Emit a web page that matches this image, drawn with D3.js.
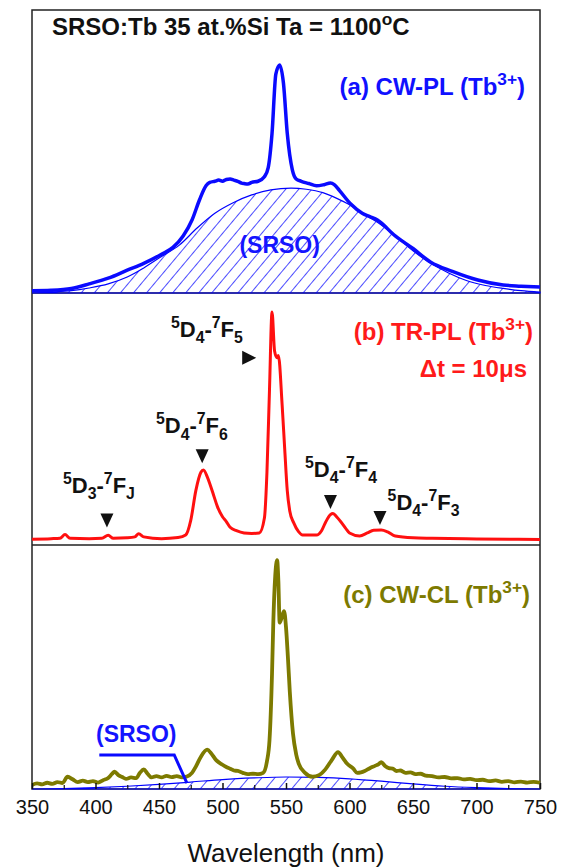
<!DOCTYPE html>
<html>
<head>
<meta charset="utf-8">
<script src="https://cdn.jsdelivr.net/npm/d3@7"></script>
<style>
  body { margin: 0; background: #fff; }
  svg { font-family: Arial, "Liberation Sans", sans-serif; }
</style>
</head>
<body>
<div id="chart"></div>
<script>
// spectres : [longueur d'onde (nm), intensité normalisée]
var cwPL = [[350,0.01],[365,0.012],[381,0.02],[395,0.04],[410,0.065],[425,0.1],[438,0.13],[452,0.17],[461,0.2],[469,0.25],[476,0.32],[482,0.41],[487,0.47],[490,0.485],[494,0.49],[497,0.495],[500,0.49],[503,0.498],[506,0.5],[509,0.495],[512,0.49],[515,0.482],[517,0.48],[520,0.478],[523,0.485],[528,0.49],[533,0.51],[536,0.55],[539,0.7],[542,0.96],[545,1.0],[548,0.92],[551,0.7],[555,0.54],[558,0.5],[562,0.49],[568,0.48],[574,0.47],[580,0.475],[585,0.482],[588,0.475],[592,0.45],[601,0.39],[610,0.35],[616,0.335],[622,0.32],[636,0.25],[650,0.195],[664,0.135],[681,0.095],[701,0.057],[721,0.035],[735,0.03],[750,0.026]];
var srsoA = [[350,0],[365,0.004],[381,0.01],[395,0.022],[410,0.04],[425,0.07],[438,0.11],[452,0.16],[466,0.21],[480,0.285],[494,0.35],[508,0.395],[523,0.43],[538,0.452],[554,0.46],[566,0.455],[579,0.44],[590,0.415],[599,0.39],[610,0.35],[622,0.31],[636,0.25],[650,0.185],[664,0.13],[678,0.088],[692,0.055],[707,0.033],[721,0.02],[735,0.01],[750,0.004]];

var trPL = [[350,0.008],[365,0.01],[372,0.012],[376,0.028],[380,0.012],[395,0.01],[405,0.012],[410,0.025],[414,0.012],[425,0.014],[431,0.018],[434,0.032],[438,0.018],[452,0.01],[465,0.015],[471,0.026],[475,0.09],[479,0.22],[483,0.3],[485,0.31],[488,0.28],[490,0.25],[493,0.2],[496,0.15],[500,0.106],[503,0.085],[506,0.06],[511,0.045],[517,0.035],[523,0.033],[529,0.035],[533,0.1],[535,0.3],[537,0.66],[539,1.0],[541,0.83],[543,0.8],[544,0.81],[547,0.59],[549,0.4],[551,0.22],[553,0.13],[556,0.08],[560,0.04],[563,0.026],[574,0.026],[578,0.045],[581,0.08],[585,0.115],[587,0.12],[590,0.105],[593,0.085],[597,0.055],[600,0.035],[608,0.022],[614,0.035],[619,0.047],[625,0.048],[630,0.04],[636,0.022],[650,0.014],[665,0.012],[700,0.009],[750,0.007]];

var cwCL = [[350,0.017],[354,0.024],[358,0.02],[362,0.027],[366,0.022],[370,0.03],[374,0.026],[378,0.053],[382,0.042],[386,0.03],[390,0.036],[394,0.03],[398,0.034],[402,0.028],[406,0.038],[410,0.048],[413,0.065],[415,0.075],[418,0.06],[421,0.052],[424,0.044],[428,0.05],[432,0.047],[435,0.07],[438,0.085],[441,0.066],[444,0.05],[448,0.056],[452,0.05],[456,0.057],[460,0.051],[464,0.056],[468,0.05],[472,0.054],[476,0.07],[479,0.097],[483,0.14],[488,0.17],[491,0.155],[495,0.125],[500,0.105],[503,0.095],[506,0.088],[509,0.08],[512,0.078],[516,0.07],[520,0.064],[524,0.066],[528,0.064],[532,0.07],[535,0.12],[537,0.21],[539,0.5],[540,0.72],[541.5,0.92],[543,0.99],[544,0.9],[545,0.72],[546.5,0.74],[548.5,0.77],[550,0.7],[551.5,0.57],[553,0.42],[555.5,0.24],[558,0.15],[560,0.11],[565,0.07],[571,0.053],[576,0.06],[581,0.085],[586,0.125],[591,0.16],[594,0.14],[598,0.11],[603,0.088],[606,0.07],[609,0.072],[612,0.078],[616,0.09],[620,0.1],[623,0.108],[625,0.116],[628,0.1],[631,0.09],[634,0.088],[637,0.078],[640,0.08],[644,0.07],[648,0.072],[652,0.064],[656,0.066],[660,0.058],[665,0.056],[670,0.05],[675,0.052],[680,0.046],[685,0.047],[690,0.042],[695,0.044],[700,0.038],[705,0.04],[710,0.034],[715,0.037],[720,0.031],[725,0.034],[730,0.029],[735,0.032],[740,0.028],[745,0.031],[750,0.027]];
var srsoC = [[350,0],[375,0.002],[400,0.006],[425,0.012],[450,0.02],[475,0.03],[500,0.041],[525,0.048],[550,0.052],[575,0.05],[600,0.044],[625,0.034],[650,0.022],[675,0.012],[700,0.006],[725,0.002],[750,0]];

// graduations de l'axe des x
var majorTicks = [350, 400, 450, 500, 550, 600, 650, 700, 750];
var minorTicks = [375, 425, 475, 525, 575, 625, 675, 725];

// transitions du Tb3+ repérées sur le spectre (b)
var transitions = [
  {lvl: "3", f: "J", wl: 409, v: 0.09, lwl: 374.4, lv: 0.21, dir: "down"},
  {lvl: "4", f: "6", wl: 484, v: 0.37, lwl: 447.6, lv: 0.47, dir: "down"},
  {lvl: "4", f: "5", wl: 521, v: 0.80, lwl: 459.4, lv: 0.89, dir: "right"},
  {lvl: "4", f: "4", wl: 585, v: 0.17, lwl: 565, lv: 0.28, dir: "down"},
  {lvl: "4", f: "3", wl: 624, v: 0.10, lwl: 630, lv: 0.135, dir: "down"}
];

var width = 564
var height = 867
var left = 32, right = 540

var svg = d3.select("#chart")
  .append("svg")
    .attr("width", width)
    .attr("height", height)

var x = d3.scaleLinear().domain([350, 750]).range([left, right])
var yA = d3.scaleLinear().domain([0, 1.241]).range([293, 10])
var yB = d3.scaleLinear().domain([-0.0175, 1.083]).range([545, 293])
var yC = d3.scaleLinear().domain([0, 1.056]).range([789, 545])

// motif hachuré pour la contribution SRSO
var defs = svg.append("defs")
defs.append("pattern")
    .attr("id", "hatch")
    .attr("width", 10)
    .attr("height", 10)
    .attr("patternUnits", "userSpaceOnUse")
    .attr("patternTransform", "rotate(40)")
  .append("line")
    .attr("x1", 0).attr("y1", 0)
    .attr("x2", 0).attr("y2", 10)
    .attr("stroke", "#0000ff")
    .attr("stroke-width", 1.4)

function drawSrso(data, y) {
  var area = d3.area()
    .x(function(d){ return x(d[0]) })
    .y0(y(0))
    .y1(function(d){ return y(d[1]) })
    .curve(d3.curveMonotoneX)
  svg.append("path")
    .datum(data)
    .attr("d", area)
    .attr("fill", "url(#hatch)")
    .attr("stroke", "#0000ff")
    .attr("stroke-width", 1.2)
}

function drawLine(data, y, color, w) {
  var line = d3.line()
    .x(function(d){ return x(d[0]) })
    .y(function(d){ return y(d[1]) })
    .curve(d3.curveMonotoneX)
  svg.append("path")
    .datum(data)
    .attr("d", line)
    .attr("fill", "none")
    .attr("stroke", color)
    .attr("stroke-width", w)
    .attr("stroke-linejoin", "round")
}

// texte avec exposants / indices
function richText(px, py, parts, size, color, anchor) {
  var t = svg.append("text")
    .attr("x", px)
    .attr("y", py)
    .attr("font-size", size)
    .attr("font-weight", "bold")
    .attr("fill", color)
    .attr("text-anchor", anchor || "start")
  var shift = 0
  parts.forEach(function(p) {
    var target = p.s === "sup" ? -size * 0.42 : (p.s === "sub" ? size * 0.28 : 0)
    t.append("tspan")
      .attr("dy", target - shift)
      .attr("font-size", p.s ? size * 0.72 : size)
      .text(p.t)
    shift = target
  })
}

// cadres des trois panneaux
svg.append("rect")
  .attr("x", left).attr("y", 10)
  .attr("width", right - left).attr("height", 789 - 10)
  .attr("fill", "none").attr("stroke", "#222").attr("stroke-width", 1.5)
svg.append("line").attr("x1", left).attr("x2", right).attr("y1", 293).attr("y2", 293)
  .attr("stroke", "#222").attr("stroke-width", 1.5)
svg.append("line").attr("x1", left).attr("x2", right).attr("y1", 545).attr("y2", 545)
  .attr("stroke", "#222").attr("stroke-width", 1.5)

// (a) CW-PL
drawSrso(srsoA, yA)
drawLine(cwPL, yA, "#0a0aff", 3.5)

// (b) TR-PL
drawLine(trPL, yB, "#ff1010", 3)

// (c) CW-CL
drawSrso(srsoC, yC)
drawLine(cwCL, yC, "#7d7a00", 3.8)

// axe des x (graduations vers l'intérieur)
var axis = svg.append("g")
  .attr("transform", "translate(0,789)")
  .call(d3.axisBottom(x).tickValues(majorTicks).tickSize(-6).tickPadding(11).tickFormat(d3.format("d")))
axis.select(".domain").remove()
axis.selectAll("text").attr("font-size", 20).attr("font-family", "Arial, 'Liberation Sans', sans-serif").attr("fill", "#111")
axis.selectAll("line").attr("stroke", "#111").attr("stroke-width", 1.5)

var minor = svg.append("g")
  .attr("transform", "translate(0,789)")
  .call(d3.axisBottom(x).tickValues(minorTicks).tickSize(-4).tickFormat(""))
minor.select(".domain").remove()
minor.selectAll("line").attr("stroke", "#111").attr("stroke-width", 1.2)

svg.append("text")
  .attr("x", (left + right) / 2)
  .attr("y", 862)
  .attr("text-anchor", "middle")
  .attr("font-size", 26)
  .attr("fill", "#111")
  .text("Wavelength (nm)")

// titre
richText(52, 35, [{t: "SRSO:Tb 35 at.%Si Ta = 1100"}, {t: "o", s: "sup"}, {t: "C"}], 24, "#111")

// étiquettes des panneaux
var tb = function(pre) { return [{t: pre + " (Tb"}, {t: "3+", s: "sup"}, {t: ")"}] }
richText(525, 95, tb("(a) CW-PL"), 24, "#1010ff", "end")
richText(533, 340, tb("(b) TR-PL"), 24, "#ff1a1a", "end")
richText(527, 377, [{t: "\u0394t = 10\u03bcs"}], 24, "#ff1a1a", "end")
richText(530, 603, tb("(c) CW-CL"), 24, "#7d7a00", "end")

svg.append("text")
  .attr("x", x(545)).attr("y", yA(0.175))
  .attr("text-anchor", "middle")
  .attr("font-size", 23).attr("font-weight", "bold").attr("fill", "#1414ff")
  .text("(SRSO)")

// légende SRSO du panneau (c) avec son trait de rappel
svg.append("text")
  .attr("x", 96).attr("y", 742)
  .attr("font-size", 23).attr("font-weight", "bold").attr("fill", "#1414ff")
  .text("(SRSO)")
svg.append("path")
  .attr("d", d3.line()([[x(403), 755], [x(462), 755], [x(472), yC(0.025)]]))
  .attr("fill", "none").attr("stroke", "#0a0aff").attr("stroke-width", 3)

// flèches et noms des transitions
transitions.forEach(function(d) {
  var cx = x(d.wl), cy = yB(d.v)
  var tri = d.dir === "down"
    ? [[cx - 6.5, cy - 7], [cx + 6.5, cy - 7], [cx, cy + 7]]
    : [[cx - 7, cy - 7], [cx - 7, cy + 7], [cx + 7, cy]]
  svg.append("path")
    .attr("d", d3.line()(tri) + "Z")
    .attr("fill", "#111")
  richText(x(d.lwl), yB(d.lv), [
    {t: "5", s: "sup"}, {t: "D"}, {t: d.lvl, s: "sub"}, {t: "-"},
    {t: "7", s: "sup"}, {t: "F"}, {t: d.f, s: "sub"}
  ], 22, "#111")
})
</script>
</body>
</html>
